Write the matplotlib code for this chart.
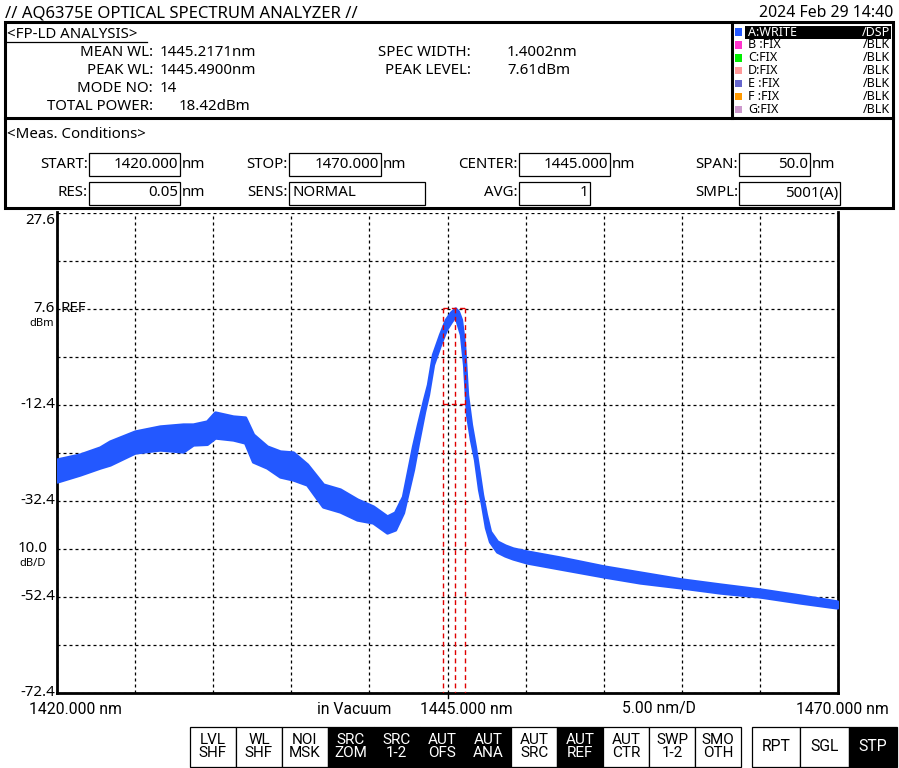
import matplotlib
matplotlib.use('Agg')
import matplotlib.pyplot as plt
from matplotlib.patches import Rectangle
import matplotlib.transforms as mtransforms

plt.rcParams['font.family'] = ['Noto Sans', 'DejaVu Sans']
COND = ['Liberation Sans Narrow', 'Roboto', 'DejaVu Sans']

wavelength_nm = [1420.00, 1421.47, 1422.75, 1423.39, 1424.99, 1426.59, 1428.07, 1428.71, 1429.60, 1430.12,
                 1431.27, 1432.04, 1432.55, 1433.44, 1434.28, 1435.11, 1436.01, 1437.03, 1438.12, 1439.21,
                 1440.23, 1441.13, 1441.64, 1442.15, 1442.79, 1443.11, 1443.50, 1443.75, 1444.07, 1444.52,
                 1444.90, 1445.22, 1445.49, 1445.67, 1445.86, 1446.06, 1446.25, 1446.50, 1446.76, 1447.02,
                 1447.21, 1447.46, 1447.72, 1448.17, 1448.68, 1449.19, 1450.09, 1452.20, 1455.02, 1457.32,
                 1460.01, 1462.45, 1465.01, 1467.57, 1469.94]
level_upper_dbm = [-23.86, -22.82, -21.36, -20.11, -18.03, -16.98, -16.57, -16.57, -15.94, -14.07,
                   -14.90, -15.11, -18.65, -21.15, -22.19, -22.40, -24.90, -29.07, -30.11, -32.19,
                   -33.65, -35.73, -34.90, -31.57, -21.15, -16.57, -11.36, -8.23, -1.98, 2.18,
                   5.31, 6.77, 7.61, 6.98, 5.31, 0.10, -10.32, -16.57, -21.36, -26.98,
                   -31.15, -35.32, -38.86, -40.94, -41.78, -42.40, -43.03, -44.28, -46.15, -47.40,
                   -48.86, -49.90, -50.94, -52.19, -53.44]
level_lower_dbm = [-28.44, -26.98, -25.53, -24.90, -22.40, -21.78, -22.19, -20.73, -20.60, -19.28,
                   -19.69, -20.32, -24.28, -25.53, -27.40, -28.02, -29.07, -33.65, -34.69, -36.36,
                   -36.98, -39.07, -38.44, -34.90, -25.94, -20.32, -13.86, -10.32, -4.07, 0.10,
                   3.23, 4.89, 6.14, 4.27, 2.18, -4.07, -14.48, -19.69, -23.86, -30.11,
                   -33.23, -38.03, -40.94, -43.03, -43.86, -44.48, -45.32, -46.57, -48.23, -49.48,
                   -50.53, -51.57, -52.40, -53.65, -54.69]

# analysis markers
marker_wl = [1444.72, 1445.49, 1446.12]
marker_levels = [7.61, -12.39]

# axis settings
wl_start, wl_stop, wl_div = 1420.0, 1470.0, 5.0
ref_level, db_div = 7.6, 10.0
y_top, y_bottom = 27.6, -72.4
ytick_labels = [27.6, 7.6, -12.4, -32.4, -52.4, -72.4]

TRACE = '#2358FF'
FS = 10.8

# ---------------- figure ----------------
W, H = 899, 768
fig = plt.figure(figsize=(W / 100, H / 100), dpi=100)
fig.patch.set_facecolor('white')

ax = fig.add_axes([57 / W, (H - 692.5) / H, 781 / W, 480 / H])
ax.set_xlim(wl_start, wl_stop)
ax.set_ylim(y_bottom, y_top)
xt = [wl_start + i * wl_div for i in range(11)]
yt = [y_bottom + i * db_div for i in range(11)]
ax.set_xticks(xt)
ax.set_yticks(yt)
ax.tick_params(length=0, labelbottom=False, labelleft=False)
ax.grid(True, color='black', linewidth=0.9, linestyle=(0, (2.4, 2.4)))
ax.set_axisbelow(True)
for s in ['left', 'bottom', 'right']:
    ax.spines[s].set_linewidth(2.0)
ax.spines['top'].set_visible(False)

ax.fill_between(wavelength_nm, level_lower_dbm, level_upper_dbm, facecolor=TRACE,
                edgecolor=TRACE, linewidth=2.4, zorder=3)

# red analysis lines
for w in marker_wl:
    ax.plot([w, w], [marker_levels[0], y_bottom], color='#E00000', lw=1.0,
            linestyle=(0, (3.5, 2.5)), zorder=4)
for lv in marker_levels:
    ax.plot([marker_wl[0], marker_wl[-1]], [lv, lv], color='#E00000', lw=1.0,
            linestyle=(0, (3.5, 2.5)), zorder=4)

# center tick
ax.plot([1445, 1445], [0, -0.012], transform=ax.get_xaxis_transform(), color='black',
        lw=1, clip_on=False)

# y labels
ytr = ax.get_yaxis_transform()
lab_tr = mtransforms.offset_copy(ytr, fig=fig, x=-2, y=0, units='dots')
for v in ytick_labels:
    va = 'top' if v == y_top else 'center'
    ax.text(0, v, f'{v:.1f}', transform=lab_tr, ha='right', va=va, fontsize=FS)
ax.text(0, -42.4, '10.0', transform=mtransforms.offset_copy(ytr, fig=fig, x=-9, y=0, units='dots'),
        ha='right', va='center', fontsize=FS)
ax.text(0, -42.4, 'dB/D', transform=mtransforms.offset_copy(ytr, fig=fig, x=-11, y=-15, units='dots'),
        ha='right', va='center', fontsize=8)
ax.text(0, ref_level, 'dBm', transform=mtransforms.offset_copy(ytr, fig=fig, x=-3, y=-15, units='dots'),
        ha='right', va='center', fontsize=8)
ax.text(0, ref_level, 'REF', transform=mtransforms.offset_copy(ytr, fig=fig, x=3, y=0, units='dots'),
        ha='left', va='center', fontsize=FS)

# ---------------- overlay in pixel coordinates ----------------
ov = fig.add_axes([0, 0, 1, 1])
ov.set_xlim(0, W)
ov.set_ylim(H, 0)
ov.axis('off')
ov.patch.set_visible(False)

def T(x, y, s, **kw):
    kw.setdefault('va', 'center')
    kw.setdefault('fontsize', FS)
    ov.text(x, y, s, **kw)

T(5, 13, '// AQ6375E OPTICAL SPECTRUM ANALYZER //', fontsize=12)
T(893, 13, '2024 Feb 29 14:40', ha='right', fontsize=11.4)

# frames
ov.add_patch(Rectangle((5, 22), 888, 185.5, fill=False, lw=2.2, edgecolor='black'))
ov.plot([5, 893], [117.5, 117.5], color='black', lw=2.2)
ov.plot([731.5, 731.5], [22, 117.5], color='black', lw=2.2)

# analysis block
T(7, 34, '<FP-LD ANALYSIS>')
ov.plot([6, 147], [42, 42], color='black', lw=0.9)
rows = [('MEAN WL:', '1445.2171nm', 160, 53), ('PEAK WL:', '1445.4900nm', 160, 71),
        ('MODE NO:', '14', 160, 89), ('TOTAL POWER:', '18.42dBm', 179, 106)]
for lab, val, vx, yy in rows:
    T(153, yy, lab, ha='right')
    T(vx, yy, val, ha='left')
T(471, 53, 'SPEC WIDTH:', ha='right')
T(507, 53, '1.4002nm', ha='left')
T(471, 71, 'PEAK LEVEL:', ha='right')
T(507, 71, '7.61dBm', ha='left')

# legend of traces
tr_names = ['A:WRITE', 'B :FIX', 'C:FIX', 'D:FIX', 'E :FIX', 'F :FIX', 'G:FIX']
tr_state = ['/DSP', '/BLK', '/BLK', '/BLK', '/BLK', '/BLK', '/BLK']
tr_cols = [TRACE, '#FF33CC', '#00EE00', '#FF9999', '#6666CC', '#FF9900', '#CC99CC']
ov.add_patch(Rectangle((745, 26), 146, 12.5, facecolor='black', edgecolor='none'))
for i, (n, st, c) in enumerate(zip(tr_names, tr_state, tr_cols)):
    yy = 32 + i * 12.9
    ov.add_patch(Rectangle((735, yy - 3.8), 7, 7.5, facecolor=c, edgecolor='none'))
    col = 'white' if i == 0 else 'black'
    T(748, yy, n, fontsize=9, color=col)
    T(890, yy, st, fontsize=9, color=col, ha='right')

# measurement conditions
T(7, 134, '<Meas. Conditions>')
fields = [('START:', 89, 180, '1420.000', 'nm', 164, 'r'),
          ('STOP:', 289, 381, '1470.000', 'nm', 164, 'r'),
          ('CENTER:', 519, 610, '1445.000', 'nm', 164, 'r'),
          ('SPAN:', 739, 810, '50.0', 'nm', 164, 'r'),
          ('RES:', 89, 180, '0.05', 'nm', 193, 'r'),
          ('SENS:', 289, 425, 'NORMAL', '', 193, 'l'),
          ('AVG:', 519, 590, '1', '', 193, 'r'),
          ('SMPL:', 739, 840, '5001(A)', '', 193, 'r')]
for lab, x0, x1, val, unit, yy, al in fields:
    ov.add_patch(Rectangle((x0, yy - 11.5), x1 - x0, 23, fill=False, lw=0.9, edgecolor='black'))
    T(x0 - 1, yy, lab, ha='right')
    if al == 'r':
        T(x1 - 2, yy, val, ha='right')
    else:
        T(x0 + 3, yy, val, ha='left')
    if unit:
        T(x1 + 2, yy, unit, ha='left')

# bottom scale labels
BF = 11.3
T(75, 709, '1420.000 nm', ha='center', fontsize=BF, family=COND)
T(354, 709, 'in Vacuum', ha='center', fontsize=BF, family=COND)
T(466, 709, '1445.000 nm', ha='center', fontsize=BF, family=COND)
T(659, 709, '5.00 nm/D', ha='center', fontsize=BF, family=COND)
T(842, 709, '1470.000 nm', ha='center', fontsize=BF, family=COND)

# soft keys
keys = ['LVL\nSHF', 'WL\nSHF', 'NOI\nMSK', 'SRC\nZOM', 'SRC\n1-2', 'AUT\nOFS', 'AUT\nANA',
        'AUT\nSRC', 'AUT\nREF', 'AUT\nCTR', 'SWP\n1-2', 'SMO\nOTH']
keys_on = [False, False, False, True, True, True, True, False, True, False, False, False]
kw_ = (741 - 190) / len(keys)
for i, (k, on) in enumerate(zip(keys, keys_on)):
    x0 = 190 + i * kw_
    ov.add_patch(Rectangle((x0, 727), kw_, 39.5, facecolor='black' if on else 'white',
                           edgecolor='black', lw=0.9))
    T(x0 + kw_ / 2, 746.5, k, ha='center', fontsize=11, family=COND, linespacing=0.95,
      color='white' if on else 'black')
run_keys = ['RPT', 'SGL', 'STP']
run_on = [False, False, True]
rw = (897 - 752) / 3
for i, (k, on) in enumerate(zip(run_keys, run_on)):
    x0 = 752 + i * rw
    ov.add_patch(Rectangle((x0, 727), rw, 39.5, facecolor='black' if on else 'white',
                           edgecolor='black', lw=0.9))
    T(x0 + rw / 2, 746.5, k, ha='center', fontsize=11.3, family=COND,
      color='white' if on else 'black')

fig.savefig('out.png', dpi=100, facecolor='white')
